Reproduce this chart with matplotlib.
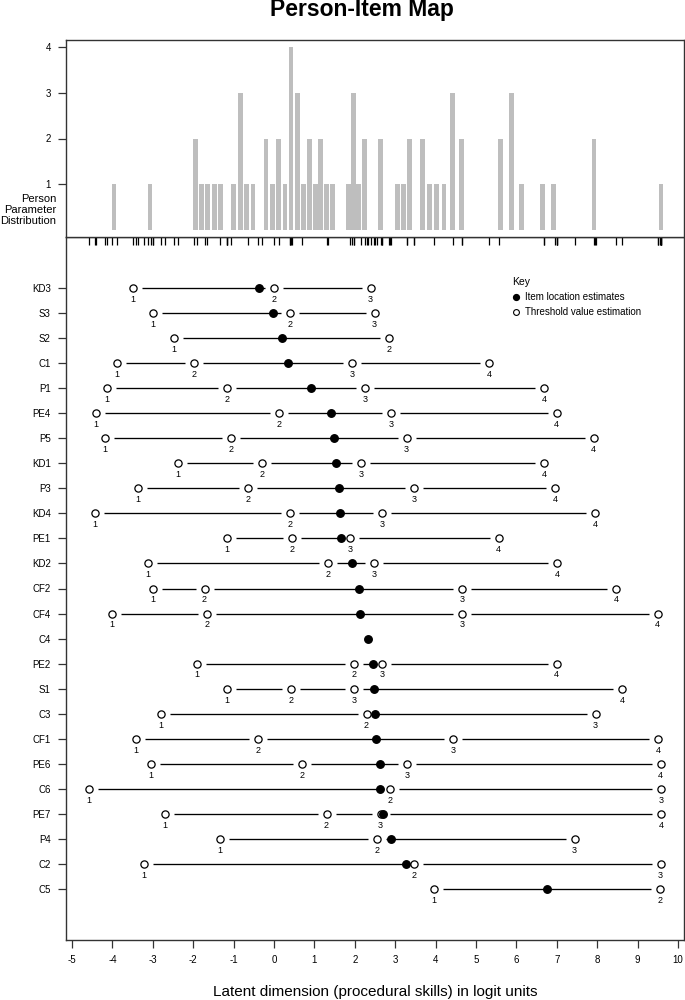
import matplotlib
matplotlib.use("Agg")
import matplotlib.pyplot as plt
from matplotlib.lines import Line2D

plt.rcParams['font.family'] = ['Liberation Sans', 'DejaVu Sans']

# ---------------- data ----------------
items = ["KD3", "S3", "S2", "C1", "P1", "PE4", "P5", "KD1", "P3", "KD4", "PE1",
         "KD2", "CF2", "CF4", "C4", "PE2", "S1", "C3", "CF1", "PE6", "C6", "PE7",
         "P4", "C2", "C5"]

item_locations = [-0.36, -0.03, 0.19, 0.35, 0.91, 1.40, 1.49, 1.53, 1.60, 1.64, 1.67,
                  1.93, 2.10, 2.13, 2.33, 2.44, 2.47, 2.49, 2.53, 2.62, 2.62, 2.71,
                  2.89, 3.27, 6.75]

thresholds = [
    [-3.50, 0.01, 2.39],            # KD3
    [-3.00, 0.39, 2.49],            # S3
    [-2.48, 2.85],                  # S2
    [-3.88, -1.98, 1.94, 5.32],     # C1
    [-4.14, -1.17, 2.26, 6.68],     # P1
    [-4.40, 0.12, 2.90, 7.00],      # PE4
    [-4.18, -1.07, 3.28, 7.91],     # P5
    [-2.38, -0.30, 2.15, 6.68],     # KD1
    [-3.36, -0.64, 3.46, 6.96],     # P3
    [-4.43, 0.40, 2.67, 7.95],      # KD4
    [-1.16, 0.45, 1.88, 5.56],      # PE1
    [-3.12, 1.34, 2.48, 7.01],      # KD2
    [-3.00, -1.72, 4.66, 8.47],     # CF2
    [-4.01, -1.65, 4.65, 9.50],     # CF4
    [],                             # C4
    [-1.90, 1.98, 2.68, 7.00],      # PE2
    [-1.16, 0.41, 1.98, 8.62],      # S1
    [-2.79, 2.29, 7.96],            # C3
    [-3.42, -0.40, 4.43, 9.51],     # CF1
    [-3.05, 0.69, 3.29, 9.57],      # PE6
    [-4.58, 2.88, 9.58],            # C6
    [-2.70, 1.30, 2.64, 9.58],      # PE7
    [-1.33, 2.54, 7.44],            # P4
    [-3.23, 3.47, 9.57],            # C2
    [3.95, 9.55],                   # C5
]

person_values = [-3.96, -3.07, -1.95, -1.80, -1.64, -1.48, -1.32, -1.00, -0.84, -0.68,
                 -0.52, -0.20, -0.04, 0.12, 0.27, 0.42, 0.58, 0.73, 0.87, 1.02,
                 1.16, 1.30, 1.44, 1.84, 1.97, 2.10, 2.24, 2.63, 3.05, 3.20,
                 3.35, 3.67, 3.84, 4.03, 4.21, 4.42, 4.64, 5.61, 5.87, 6.13,
                 6.65, 6.91, 7.92, 9.58]
person_counts = [1, 1, 2, 1, 1, 1, 1, 1, 3, 1,
                 1, 2, 1, 2, 1, 4, 3, 1, 2, 1,
                 2, 1, 1, 1, 3, 1, 2, 2, 1, 1,
                 2, 2, 1, 1, 1, 3, 2, 2, 3, 1,
                 1, 1, 2, 1]

x_ticks = [-5, -4, -3, -2, -1, 0, 1, 2, 3, 4, 5, 6, 7, 8, 9, 10]
count_ticks = [1, 2, 3, 4]

# ---------------- layout ----------------
W, H = 685, 1000
fig = plt.figure(figsize=(W / 100, H / 100), dpi=100)

def fx(px):
    return px / W

def fy(py):
    return 1 - py / H

L, R = 66, 684
TOP1, MID, BOT = 40, 237, 940
XLIM = (-5.15, 10.15)
spine_col = '#333333'

ax_top = fig.add_axes([fx(L), fy(MID), fx(R - L), (MID - TOP1) / H])
ax_bot = fig.add_axes([fx(L), fy(BOT), fx(R - L), (BOT - MID) / H])
ax_top.set_zorder(3)

for ax in (ax_top, ax_bot):
    for s in ax.spines.values():
        s.set_color(spine_col)
        s.set_linewidth(1.0)
    ax.set_xlim(*XLIM)

# ---------------- top panel: person distribution ----------------
ax_top.bar(person_values, person_counts, width=0.12, color='#bebebe',
           edgecolor='none', align='center')
ax_top.set_ylim(-0.16, 4.16)
ax_top.set_yticks(count_ticks)
ax_top.set_yticklabels([str(c) for c in count_ticks])
rug = [t for th in thresholds for t in th]
rug += [loc for loc, th in zip(item_locations, thresholds) if len(th) == 0]
ax_top.set_xticks(rug)
ax_top.set_xticklabels([])
ax_top.tick_params(axis='x', direction='out', length=6, width=0.9, color='black')
ax_top.tick_params(axis='y', direction='out', length=6, width=0.9,
                   color=spine_col, labelsize=7, pad=5)

fig.text(fx(56), fy(210), "Person\nParameter\nDistribution", ha='right',
         va='center', multialignment='right', fontsize=8, linespacing=1.15)

# ---------------- bottom panel: item map ----------------
n = len(items)
ypos = list(range(n, 0, -1))
ax_bot.set_ylim(-1.04, 27.04)
ax_bot.set_yticks(ypos)
ax_bot.set_yticklabels(items)
ax_bot.set_xticks(x_ticks)
ax_bot.set_xticklabels([str(t) for t in x_ticks])
ax_bot.tick_params(axis='both', direction='out', length=6, width=0.9,
                   color=spine_col, labelsize=7, pad=5)

px_per_unit = (R - L) / (XLIM[1] - XLIM[0])
gap = 9 / px_per_unit

for y, th, loc in zip(ypos, thresholds, item_locations):
    xs = sorted(th)
    for a, b in zip(xs[:-1], xs[1:]):
        s, e = a + gap, b - gap
        if e > s:
            ax_bot.plot([s, e], [y, y], color='black', lw=0.95,
                        solid_capstyle='butt', zorder=2)
    if xs:
        ax_bot.plot(xs, [y] * len(xs), linestyle='none', marker='o',
                    markersize=5.2, markerfacecolor='white',
                    markeredgecolor='black', markeredgewidth=0.9, zorder=3)
        for k, xv in enumerate(th, start=1):
            ax_bot.annotate(str(k), (xv, y), xytext=(0, -8.2),
                            textcoords='offset points', ha='center',
                            va='center', fontsize=6.5)
    ax_bot.plot([loc], [y], linestyle='none', marker='o', markersize=5.4,
                markerfacecolor='black', markeredgecolor='black', zorder=4)

# key
fig.text(fx(512), fy(282), "Key", ha='left', va='center', fontsize=7.5)
fig.add_artist(Line2D([fx(516)], [fy(297)], linestyle='none', marker='o',
                      markersize=4.2, markerfacecolor='black',
                      markeredgecolor='black', transform=fig.transFigure))
fig.add_artist(Line2D([fx(516)], [fy(312)], linestyle='none', marker='o',
                      markersize=4.2, markerfacecolor='white',
                      markeredgecolor='black', markeredgewidth=0.8,
                      transform=fig.transFigure))
fig.text(fx(525), fy(297), "Item location estimates", ha='left', va='center',
         fontsize=7)
fig.text(fx(525), fy(312), "Threshold value estimation", ha='left',
         va='center', fontsize=7)

# titles
fig.text(fx(362), fy(16), "Person-Item Map", ha='center', va='baseline',
         fontsize=16.5, fontweight='bold')
fig.text(fx(375), fy(992), "Latent dimension (procedural skills) in logit units",
         ha='center', va='center', fontsize=11)

fig.savefig("out.png", dpi=100)
